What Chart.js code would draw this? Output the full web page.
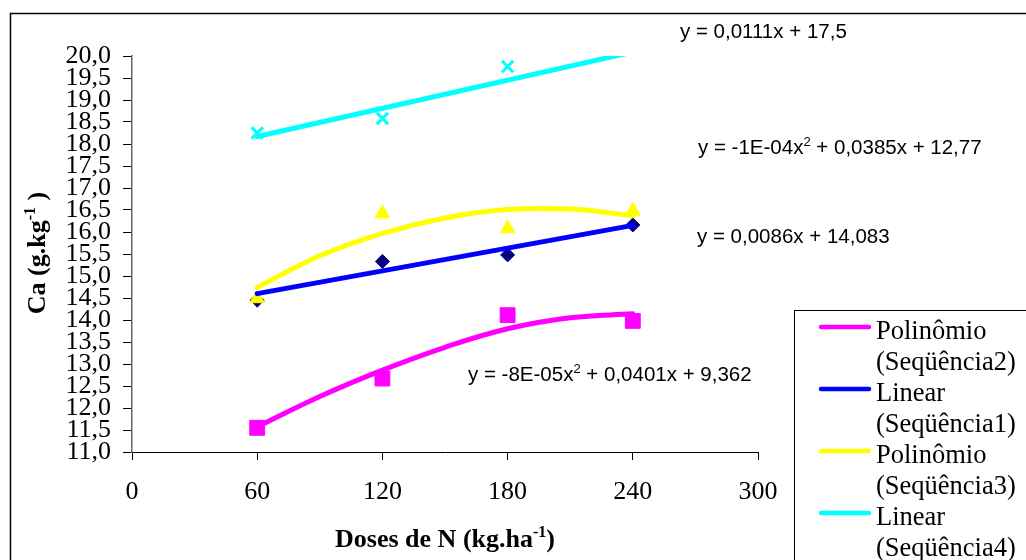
<!DOCTYPE html>
<html>
<head>
<meta charset="utf-8">
<script src="https://cdn.jsdelivr.net/npm/chart.js@4/dist/chart.umd.min.js"></script>
<style>
  body { margin: 0; background: #fff; }
  #wrap { width: 1026px; height: 560px; }
</style>
</head>
<body>
<div id="wrap"><canvas id="myChart" width="1026" height="560"></canvas></div>
<script>
// DATA
const doses = [60, 120, 180, 240];
const seq1 = [14.45, 15.33, 15.48, 16.16];   // navy diamonds
const seq2 = [11.55, 12.67, 14.11, 13.98];   // magenta squares
const seq3 = [14.49, 16.42, 16.08, 16.48];   // yellow triangles
const seq4 = [18.25, 18.58, 19.76, null];    // cyan crosses (240 is off the top)

// trend lines, read at these doses
const trendX = [60, 90, 120, 150, 180, 210, 240];
const trend2 = [11.57, 12.26, 12.86, 13.38, 13.80, 14.05, 14.14];  // Polinômio (Seqüência2)
const trend3 = [14.74, 15.46, 15.97, 16.32, 16.51, 16.52, 16.37];  // Polinômio (Seqüência3)
const linX = [60, 240];
const trend1 = [14.60, 16.15];  // Linear (Seqüência1)
const trend4 = [18.17, 20.09];  // Linear (Seqüência4)

const xTicks = [0, 60, 120, 180, 240, 300];
const yMin = 11, yMax = 20, yStep = 0.5;

const legendItems = [
    ['Polinômio', '(Seqüência2)'],
    ['Linear', '(Seqüência1)'],
    ['Polinômio', '(Seqüência3)'],
    ['Linear', '(Seqüência4)']
];
const legendColors = ['#FF00FF', '#0000FF', '#FFFF00', '#00FFFF'];

const SERIF = '"Liberation Serif", "Times New Roman", serif';
const SANS = '"Liberation Sans", Arial, sans-serif';

function pts(xs, ys) {
    return xs.map((x, i) => ({x: x, y: ys[i]}));
}

function trendSet(xs, ys, color, curved) {
    return {
        type: 'line',
        data: pts(xs, ys),
        borderColor: color,
        borderWidth: 5,
        borderCapStyle: 'round',
        pointRadius: 0,
        fill: false,
        tension: curved ? 0.4 : 0,
        order: 0,
        clip: 0
    };
}

function markerSet(ys, color, style, radius) {
    return {
        type: 'scatter',
        data: pts(doses, ys),
        showLine: false,
        pointStyle: style,
        pointRadius: radius,
        pointBackgroundColor: color,
        pointBorderColor: color,
        pointBorderWidth: style === 'crossRot' ? 3 : 1,
        order: 1
    };
}

/**********************************************************************************
 * EXTRA DRAWING: frame, axis titles, equations, legend box
 *********************************************************************************/

// draw text pieces with superscripts, left to right from x
function drawRich(ctx, parts, x, y, size, bold, family) {
    parts.forEach((p) => {
        const s = p.sup ? Math.round(size * 0.62) : size;
        ctx.font = (bold ? 'bold ' : '') + s + 'px ' + family;
        ctx.fillText(p.t, x, p.sup ? y - size * 0.38 : y);
        x += ctx.measureText(p.t).width;
    });
    return x;
}

function richWidth(ctx, parts, size, bold, family) {
    let w = 0;
    parts.forEach((p) => {
        const s = p.sup ? Math.round(size * 0.62) : size;
        ctx.font = (bold ? 'bold ' : '') + s + 'px ' + family;
        w += ctx.measureText(p.t).width;
    });
    return w;
}

const extras = {
    id: 'extras',
    afterDraw(chart) {
        const ctx = chart.ctx;
        ctx.save();
        ctx.fillStyle = '#000';
        ctx.textAlign = 'left';
        ctx.textBaseline = 'alphabetic';

        // outer frame (runs off the picture)
        ctx.strokeStyle = '#000';
        ctx.lineWidth = 1.5;
        ctx.strokeRect(10.5, 13.5, 1100, 700);

        // x title
        const xt = [{t: 'Doses de N (kg.ha'}, {t: '-1', sup: true}, {t: ')'}];
        const xw = richWidth(ctx, xt, 26, true, SERIF);
        drawRich(ctx, xt, 445 - xw / 2, 547, 26, true, SERIF);

        // y title, rotated
        const yt = [{t: 'Ca (g.kg'}, {t: '-1', sup: true}, {t: ' )'}];
        const yw = richWidth(ctx, yt, 26, true, SERIF);
        ctx.save();
        ctx.translate(45, 253);
        ctx.rotate(-Math.PI / 2);
        drawRich(ctx, yt, -yw / 2, 0, 26, true, SERIF);
        ctx.restore();

        // trend equations
        drawRich(ctx, [{t: 'y = 0,0111x + 17,5'}], 680, 38, 20.5, false, SANS);
        drawRich(ctx, [{t: 'y = -1E-04x'}, {t: '2', sup: true}, {t: ' + 0,0385x + 12,77'}], 698, 154, 20.5, false, SANS);
        drawRich(ctx, [{t: 'y = 0,0086x + 14,083'}], 697, 243, 20.5, false, SANS);
        drawRich(ctx, [{t: 'y = -8E-05x'}, {t: '2', sup: true}, {t: ' + 0,0401x + 9,362'}], 468, 381, 20.5, false, SANS);

        // legend box
        ctx.fillStyle = '#fff';
        ctx.fillRect(794, 310, 300, 300);
        ctx.strokeStyle = '#000';
        ctx.lineWidth = 1;
        ctx.strokeRect(794.5, 310.5, 300, 300);
        ctx.font = '26.5px ' + SERIF;
        legendItems.forEach((item, i) => {
            const base = 339 + i * 62;
            ctx.strokeStyle = legendColors[i];
            ctx.lineWidth = 4.5;
            ctx.lineCap = 'round';
            ctx.beginPath();
            ctx.moveTo(821, base - 12);
            ctx.lineTo(869, base - 12);
            ctx.stroke();
            ctx.fillStyle = '#000';
            ctx.fillText(item[0], 876, base);
            ctx.fillText(item[1], 876, base + 31);
        });
        ctx.restore();
    }
};

/**********************************************************************************
 * CHART
 *********************************************************************************/

const ctx = document.getElementById('myChart');

// lower index is painted last, so seq1 goes at the end (under the triangles)
var chart = new Chart(ctx, {
    type: 'scatter',
    data: {
        datasets: [
            trendSet(trendX, trend2, '#FF00FF', true),
            trendSet(linX, trend1, '#0000FF', false),
            trendSet(trendX, trend3, '#FFFF00', true),
            trendSet(linX, trend4, '#00FFFF', false),
            markerSet(seq4, '#00FFFF', 'crossRot', 8),
            markerSet(seq3, '#FFFF00', 'triangle', 8.5),
            markerSet(seq2, '#FF00FF', 'rect', 10.5),
            markerSet(seq1, '#000080', 'rectRot', 7)
        ]
    },
    options: {
        responsive: false,
        animation: false,
        devicePixelRatio: 1,
        layout: { padding: { left: 0, top: 56, right: 268, bottom: 0 } },
        plugins: {
            legend: { display: false },
            tooltip: { enabled: false }
        },
        scales: {
            x: {
                type: 'linear',
                min: xTicks[0],
                max: xTicks[xTicks.length - 1],
                afterBuildTicks: (scale) => { scale.ticks = xTicks.map(v => ({value: v})); },
                afterFit: (scale) => { scale.height = 108; },
                grid: { drawOnChartArea: false, drawTicks: true, tickLength: 8, color: '#000' },
                border: { display: true, color: '#000', width: 1 },
                ticks: {
                    color: '#000',
                    padding: 17,
                    maxRotation: 0,
                    font: { family: SERIF, size: 26 }
                }
            },
            y: {
                type: 'linear',
                min: yMin,
                max: yMax,
                afterFit: (scale) => { scale.width = 132; },
                grid: { drawOnChartArea: false, drawTicks: true, tickLength: 9, color: '#000' },
                border: { display: true, color: '#666', width: 1.5 },
                ticks: {
                    stepSize: yStep,
                    autoSkip: false,
                    color: '#000',
                    padding: 12,
                    font: { family: SERIF, size: 26 },
                    callback: (v) => v.toFixed(1).replace('.', ',')
                }
            }
        }
    },
    plugins: [extras]
});
</script>
</body>
</html>
